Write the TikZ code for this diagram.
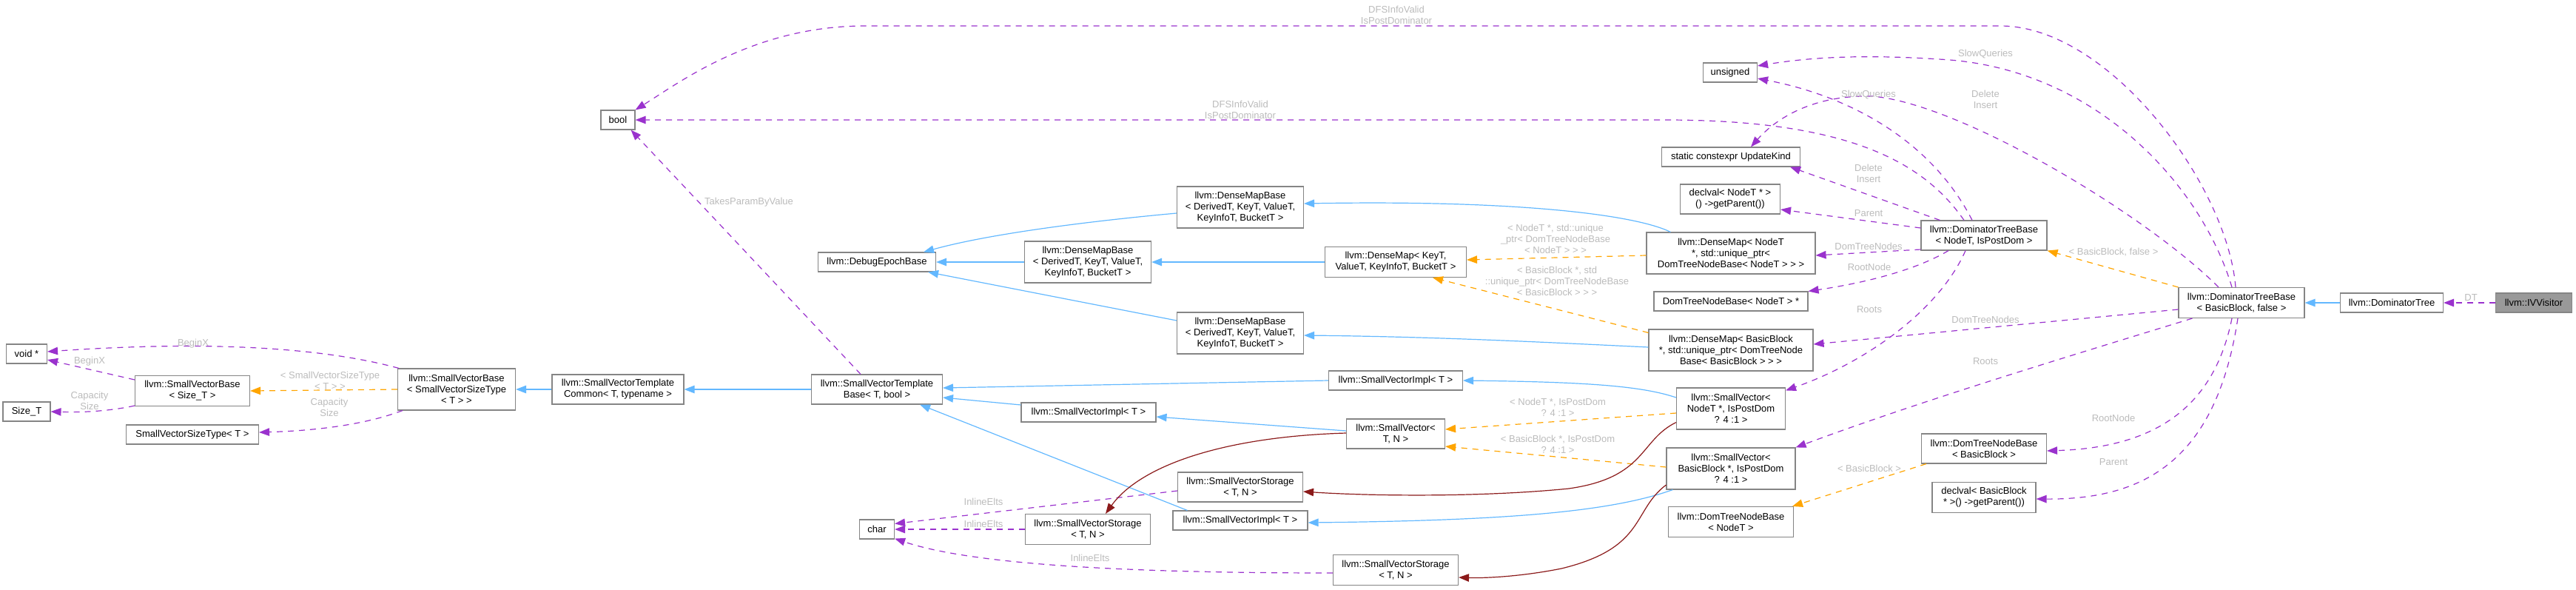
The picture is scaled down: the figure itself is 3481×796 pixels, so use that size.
\documentclass[tikz,border=0pt]{standalone}
\usepackage{fontspec}
\setmainfont{Liberation Sans}
\usetikzlibrary{arrows.meta,calc}
\definecolor{bordc}{HTML}{858585}
\definecolor{lblc}{HTML}{BBBBBB}
\definecolor{bluec}{HTML}{63B8FF}
\definecolor{purc}{HTML}{9A32CD}
\definecolor{orac}{HTML}{FFA500}
\definecolor{redc}{HTML}{8B1A1A}
\definecolor{grayfill}{HTML}{999999}
\newcommand{\nfont}{\fontsize{13}{15}\selectfont}
\tikzset{
  box/.style={draw=bordc, fill=white, line width=1.1pt, inner sep=0pt, align=center, font=\nfont},
  lbl/.style={text=lblc, align=center, font=\nfont, inner sep=0pt},
  tip/.style={-{Triangle[length=14pt,width=10.5pt]}},
  inh/.style={draw=bluec, line width=1.2pt, tip},
  use/.style={draw=purc, line width=1.2pt, dash pattern=on 8pt off 7pt, tip},
  tmpl/.style={draw=orac, line width=1.2pt, dash pattern=on 8pt off 7pt, tip},
  priv/.style={draw=redc, line width=1.2pt, tip},
}
\begin{document}
\begin{tikzpicture}[x=1pt,y=-1pt]
\useasboundingbox (0,0) rectangle (3481,796);
% nodes
\node[box, minimum width=46, minimum height=26] (bool) at (835,162) {bool};
\node[box, minimum width=73, minimum height=26] (unsigned) at (2338,98) {unsigned};
\node[box, minimum width=187, minimum height=26] (updk) at (2339,212) {static constexpr UpdateKind};
\node[box, minimum width=135, minimum height=40] (declN) at (2338,269) {declval< NodeT * >\\() ->getParent())};
\node[box, minimum width=171, minimum height=56] (dmb1) at (1676,280) {llvm::DenseMapBase\\< DerivedT, KeyT, ValueT,\\KeyInfoT, BucketT >};
\node[box, minimum width=159, minimum height=26] (deb) at (1185,354) {llvm::DebugEpochBase};
\node[box, minimum width=171, minimum height=56] (dmb2) at (1470,354) {llvm::DenseMapBase\\< DerivedT, KeyT, ValueT,\\KeyInfoT, BucketT >};
\node[box, minimum width=191, minimum height=41] (dmK) at (1886,354) {llvm::DenseMap< KeyT,\\ValueT, KeyInfoT, BucketT >};
\node[box, minimum width=170, minimum height=40] (dtbN) at (2681,318) {llvm::DominatorTreeBase\\< NodeT, IsPostDom >};
\node[box, minimum width=228, minimum height=56] (dmN) at (2339,342) {llvm::DenseMap< NodeT\\*, std::unique\_ptr<\\DomTreeNodeBase< NodeT > > >};
\node[box, minimum width=208, minimum height=26] (dtnbNp) at (2339,407) {DomTreeNodeBase< NodeT > *};
\node[box, minimum width=171, minimum height=56] (dmb3) at (1676,450) {llvm::DenseMapBase\\< DerivedT, KeyT, ValueT,\\KeyInfoT, BucketT >};
\node[box, minimum width=222, minimum height=56] (dmB) at (2339,473) {llvm::DenseMap< BasicBlock\\*, std::unique\_ptr< DomTreeNode\\Base< BasicBlock > > >};
\node[box, minimum width=155, minimum height=41] (svb1) at (260,528) {llvm::SmallVectorBase\\< Size\_T >};
\node[box, minimum width=159, minimum height=56] (svb2) at (617,526) {llvm::SmallVectorBase\\< SmallVectorSizeType\\< T > >};
\node[box, minimum width=55, minimum height=26] (voidp) at (36,478) {void *};
\node[box, minimum width=64, minimum height=26] (sizeT) at (36,556) {Size\_T};
\node[box, minimum width=179, minimum height=26] (svst) at (260,587) {SmallVectorSizeType< T >};
\node[box, minimum width=178, minimum height=40] (svtc) at (835,526) {llvm::SmallVectorTemplate\\Common< T, typename >};
\node[box, minimum width=177, minimum height=40] (svtb) at (1185,526) {llvm::SmallVectorTemplate\\Base< T, bool >};
\node[box, minimum width=181, minimum height=26] (svi1) at (1886,514) {llvm::SmallVectorImpl< T >};
\node[box, minimum width=182, minimum height=26] (svi2) at (1471,557) {llvm::SmallVectorImpl< T >};
\node[box, minimum width=133, minimum height=40] (svTN) at (1886,586) {llvm::SmallVector<\\T, N >};
\node[box, minimum width=169, minimum height=40] (svs1) at (1676,658) {llvm::SmallVectorStorage\\< T, N >};
\node[box, minimum width=169, minimum height=41] (svs2) at (1470,715) {llvm::SmallVectorStorage\\< T, N >};
\node[box, minimum width=182, minimum height=26] (svi3) at (1676,703) {llvm::SmallVectorImpl< T >};
\node[box, minimum width=169, minimum height=41] (svs3) at (1886,770) {llvm::SmallVectorStorage\\< T, N >};
\node[box, minimum width=47, minimum height=26] (char) at (1185,715) {char};
\node[box, minimum width=147, minimum height=56] (svN) at (2339,552) {llvm::SmallVector<\\NodeT *, IsPostDom\\? 4 :1 >};
\node[box, minimum width=174, minimum height=56] (svB) at (2339,633) {llvm::SmallVector<\\BasicBlock *, IsPostDom\\? 4 :1 >};
\node[box, minimum width=169, minimum height=41] (dtnbN) at (2339,705) {llvm::DomTreeNodeBase\\< NodeT >};
\node[box, minimum width=169, minimum height=40] (dtnbB) at (2681,606) {llvm::DomTreeNodeBase\\< BasicBlock >};
\node[box, minimum width=140, minimum height=41] (declB) at (2681,672) {declval< BasicBlock\\* >() ->getParent())};
\node[box, minimum width=170, minimum height=41] (dtbB) at (3029,409) {llvm::DominatorTreeBase\\< BasicBlock, false >};
\node[box, minimum width=139, minimum height=26] (dt) at (3232,409) {llvm::DominatorTree};
\node[box, fill=grayfill, minimum width=103, minimum height=26] (ivv) at (3424,409) {llvm::IVVisitor};

% purple usage edges
\draw[use] ($(dtbB.north)+(-8,0)$) .. controls (3010,250) and (2850,35) .. (2703,35) -- (1169,35) .. controls (1020,35) and (920,110) .. (bool.north east);
\draw[use] ($(dtbN.north)+(-27,0)$) .. controls (2600,220) and (2500,162) .. (2250,162) -- (bool.east);
\draw[use] ($(dtbB.north)+(-13,0)$) .. controls (2975,250) and (2830,90) .. (2620,80) .. controls (2500,72) and (2430,80) .. ($(unsigned.east)+(0,-9)$);
\draw[use] ($(dtbN.north)+(-16,0)$) .. controls (2610,190) and (2500,130) .. ($(unsigned.east)+(0,8)$);
\draw[use] ($(dtbB.north)+(-31,0)$) .. controls (2900,290) and (2650,140) .. (2530,130) .. controls (2450,128) and (2400,160) .. ($(updk.north)+(27,0)$);
\draw[use] ($(dtbN.north west)+(26,0)$) -- ($(updk.south east)+(-14,0)$);
\draw[use] ($(dtbN.west)+(0,-10)$) -- ($(declN.east)+(0,14)$);
\draw[use] ($(dtbN.west)+(0,19)$) -- ($(dmN.east)+(0,3)$);
\draw[use] ($(dtbN.south)+(-48,0)$) .. controls (2580,370) and (2500,385) .. (dtnbNp.north east);
\draw[use] ($(dtbN.south)+(-25,0)$) .. controls (2620,420) and (2520,490) .. ($(svN.north east)+(0,4)$);
\draw[use] ($(dtbB.west)+(0,9)$) -- ($(dmB.east)+(0,-8)$);
\draw[use] ($(dtbB.south west)+(19,0)$) .. controls (2800,480) and (2600,540) .. (svB.north east);
\draw[use] ($(dtbB.south)+(-13,0)$) .. controls (2990,560) and (2900,605) .. ($(dtnbB.east)+(0,3)$);
\draw[use] ($(dtbB.south)+(-5,0)$) .. controls (2995,620) and (2900,675) .. ($(declB.east)+(0,2)$);
\draw[use] (ivv.west) -- (dt.east);
\draw[use] ($(svs1.west)+(0,5)$) -- ($(char.north east)+(0,6)$);
\draw[use] (svs2.west) -- (char.east);
\draw[use] ($(svs3.west)+(0,4)$) .. controls (1550,774) and (1320,765) .. ($(char.south east)+(0,-1)$);
\draw[use] ($(svb1.west)+(0,-15)$) -- ($(voidp.east)+(0,8)$);
\draw[use] ($(svb1.south west)+(0,-1)$) .. controls (140,557) and (100,557) .. (sizeT.east);
\draw[use] ($(svb2.north west)+(2,0)$) .. controls (420,465) and (250,462) .. ($(voidp.east)+(0,-3)$);
\draw[use] ($(svb2.south west)+(7,0)$) .. controls (490,575) and (420,582) .. ($(svst.east)+(0,-3)$);
\draw[use] ($(svtb.north)+(-22,0)$) -- ($(bool.south east)+(-6,0)$);

% orange template edges
\draw[tmpl] (dtbB.north west) -- (dtbN.south east);
\draw[tmpl] ($(dmN.west)+(0,3)$) -- ($(dmK.east)+(0,-3)$);
\draw[tmpl] ($(dmB.north west)+(0,5)$) -- ($(dmK.south)+(50,0)$);
\draw[tmpl] ($(svN.west)+(0,6)$) -- ($(svTN.east)+(0,-6)$);
\draw[tmpl] ($(svB.west)+(0,-2)$) -- ($(svTN.east)+(0,17)$);
\draw[tmpl] ($(dtnbB.south west)+(7,0)$) -- ($(dtnbN.north east)+(-2,0)$);
\draw[tmpl] (svb2.west) -- (svb1.east);

% blue inheritance edges
\draw[inh] (dt.west) -- (dtbB.east);
\draw[inh] (svtc.west) -- (svb2.east);
\draw[inh] (svtb.west) -- (svtc.east);
\draw[inh] (svi1.west) -- ($(svtb.east)+(0,-2)$);
\draw[inh] ($(svi2.west)+(0,-10)$) -- ($(svtb.east)+(0,11)$);
\draw[inh] ($(svi3.north west)+(20,0)$) -- ($(svtb.south east)+(-31,0)$);
\draw[inh] ($(svTN.west)+(0,-4)$) -- ($(svi2.east)+(0,6)$);
\draw[inh] ($(svN.west)+(0,-15)$) .. controls (2220,522) and (2150,516) .. (svi1.east);
\draw[inh] ($(svB.south west)+(9,0)$) .. controls (2180,690) and (2050,703) .. ($(svi3.east)+(0,3)$);
\draw[inh] ($(dmb3.west)+(0,-17)$) -- ($(deb.south east)+(-11,0)$);
\draw[inh] (dmb2.west) -- (deb.east);
\draw[inh] ($(dmb1.west)+(0,8)$) .. controls (1480,298) and (1340,315) .. ($(deb.north east)+(-17,0)$);
\draw[inh] (dmK.west) -- (dmb2.east);
\draw[inh] ($(dmN.north west)+(33,0)$) .. controls (2210,290) and (2050,270) .. ($(dmb1.east)+(0,-5)$);
\draw[inh] ($(dmB.west)+(0,-4)$) .. controls (2100,463) and (1950,455) .. ($(dmb3.east)+(0,3)$);

% dark red private inheritance
\draw[priv] ($(svTN.west)+(0,-1)$) .. controls (1650,590) and (1540,630) .. ($(svs2.north)+(24,0)$);
\draw[priv] ($(svN.south west)+(0,-10)$) .. controls (2215,595) and (2225,645) .. (2120,660) .. controls (2000,672) and (1850,670) .. ($(svs1.east)+(0,6)$);
\draw[priv] ($(svB.west)+(0,22)$) .. controls (2205,690) and (2225,740) .. (2110,768) .. controls (2050,780) and (2000,781) .. ($(svs3.east)+(0,10)$);

% labels
\node[lbl] (l1) at (1887,20) {DFSInfoValid\\IsPostDominator};
\node[lbl] (l2) at (1676,148) {DFSInfoValid\\IsPostDominator};
\node[lbl] (l3) at (2683,73) {SlowQueries};
\node[lbl] (l4) at (2525,128) {SlowQueries};
\node[lbl] (l5) at (2683,134) {Delete\\Insert};
\node[lbl] (l6) at (2525,234) {Delete\\Insert};
\node[lbl] (l7) at (2525,288) {Parent};
\node[lbl] (l8) at (2525,333) {DomTreeNodes};
\node[lbl] (l9) at (2526,361) {RootNode};
\node[lbl] (l10) at (2526,418) {Roots};
\node[lbl] (l11) at (2856,341) {< BasicBlock, false >};
\node[lbl] (l12) at (2683,432) {DomTreeNodes};
\node[lbl] (l13) at (2683,488) {Roots};
\node[lbl] (l14) at (2856,565) {RootNode};
\node[lbl] (l15) at (2856,624) {Parent};
\node[lbl] (l17) at (3339,402) {DT};
\node[lbl] (l18) at (2102,323) {< NodeT *, std::unique\\\_ptr< DomTreeNodeBase\\< NodeT > > >};
\node[lbl] (l19) at (2104,380) {< BasicBlock *, std\\::unique\_ptr< DomTreeNodeBase\\< BasicBlock > > >};
\node[lbl] (l20) at (2105,550) {< NodeT *, IsPostDom\\? 4 :1 >};
\node[lbl] (l21) at (2105,600) {< BasicBlock *, IsPostDom\\? 4 :1 >};
\node[lbl] (l22) at (2526,633) {< BasicBlock >};
\node[lbl] (l23) at (446,514) {< SmallVectorSizeType\\< T > >};
\node[lbl] (l41) at (1329,678) {InlineElts};
\node[lbl] (l42) at (1329,708) {InlineElts};
\node[lbl] (l43) at (1473,754) {InlineElts};
\node[lbl] (l44) at (121,488) {BeginX};
\node[lbl] (l45) at (121,541) {Capacity\\Size};
\node[lbl] (l46) at (261,464) {BeginX};
\node[lbl] (l47) at (445,550) {Capacity\\Size};
\node[lbl] (l48) at (1012,273) {TakesParamByValue};
\end{tikzpicture}
\end{document}
